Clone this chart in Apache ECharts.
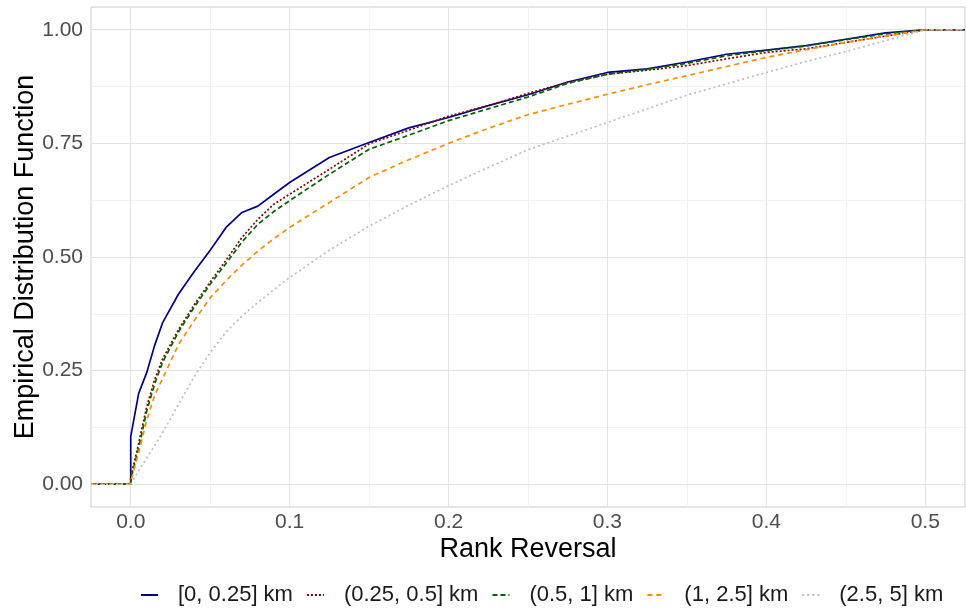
<!DOCTYPE html>
<html>
<head>
<meta charset="utf-8">
<script src="https://cdn.jsdelivr.net/npm/echarts@6/dist/echarts.min.js"></script>
<style>
  html, body { margin: 0; padding: 0; background: #fff; }
  #chart { width: 966px; height: 613px; }
</style>
</head>
<body>
<div id="chart"></div>
<script>
const rankReversal = [-0.025, 0, 0, 0.005, 0.01, 0.015, 0.02, 0.03, 0.04, 0.05, 0.06, 0.07, 0.08, 0.09,
  0.1, 0.125, 0.15, 0.175, 0.2, 0.225, 0.25, 0.275, 0.3, 0.325, 0.35, 0.375, 0.4, 0.425, 0.45, 0.475, 0.5, 0.525];

const ecdf0to025 = [0, 0, 0.105, 0.20, 0.245, 0.305, 0.355, 0.418, 0.468, 0.515, 0.565, 0.598, 0.612, 0.638,
  0.664, 0.719, 0.752, 0.784, 0.807, 0.833, 0.857, 0.885, 0.906, 0.914, 0.929, 0.946, 0.955, 0.965, 0.979, 0.993, 1, 1];
const ecdf025to05 = [0, 0, 0.015, 0.09, 0.17, 0.23, 0.275, 0.34, 0.395, 0.445, 0.493, 0.543, 0.583, 0.616,
  0.638, 0.693, 0.749, 0.779, 0.81, 0.833, 0.86, 0.884, 0.902, 0.911, 0.921, 0.936, 0.95, 0.958, 0.972, 0.986, 1, 1];
const ecdf05to1 = [0, 0, 0.01, 0.08, 0.16, 0.22, 0.268, 0.335, 0.39, 0.44, 0.486, 0.533, 0.572, 0.6,
  0.624, 0.682, 0.737, 0.768, 0.8, 0.826, 0.852, 0.882, 0.902, 0.913, 0.926, 0.943, 0.954, 0.964, 0.978, 0.991, 1, 1];
const ecdf1to25 = [0, 0, 0.005, 0.07, 0.14, 0.195, 0.232, 0.307, 0.36, 0.41, 0.448, 0.482, 0.513, 0.54,
  0.565, 0.62, 0.675, 0.714, 0.75, 0.783, 0.813, 0.836, 0.858, 0.879, 0.899, 0.919, 0.939, 0.956, 0.972, 0.986, 1, 1];
const ecdf25to5 = [0, 0, 0, 0.03, 0.057, 0.085, 0.113, 0.175, 0.237, 0.29, 0.335, 0.37, 0.40, 0.428,
  0.455, 0.515, 0.568, 0.614, 0.657, 0.697, 0.736, 0.766, 0.796, 0.826, 0.856, 0.881, 0.906, 0.93, 0.952, 0.976, 1, 1];

const groupNames = ['[0, 0.25] km', '(0.25, 0.5] km', '(0.5, 1] km', '(1, 2.5] km', '(2.5, 5] km'];
const groupValues = [ecdf0to025, ecdf025to05, ecdf05to1, ecdf1to25, ecdf25to5];

const xMajor = [0, 0.1, 0.2, 0.3, 0.4, 0.5];
const xMinor = [0.05, 0.15, 0.25, 0.35, 0.45];
const yMajor = [0, 0.25, 0.5, 0.75, 1];
const yMinor = [0.125, 0.375, 0.625, 0.875];

const lineLooks = [
  { color: '#00008B', type: 'solid' },
  { color: '#8B0000', type: [2, 2] },
  { color: '#006400', type: [5, 3] },
  { color: '#FF8C00', type: [5, 4] },
  { color: '#BEBEBE', type: [2, 3] },
];

const FONT = 'Liberation Sans, Arial, sans-serif';

const chart = echarts.init(document.getElementById('chart'), null, { renderer: 'canvas' });

const xRange = { min: -0.025, max: 0.525 };
const yRange = { min: -0.05, max: 1.05 };

const option = {
  animation: false,
  backgroundColor: '#fff',
  grid: {
    left: 91, right: 1, top: 7, bottom: 106,
    outerBoundsMode: 'none',
    show: true,
    borderColor: '#CCCCCC',
    borderWidth: 1,
  },
  legend: {
    left: 140,
    top: 584,
    padding: 0,
    itemWidth: 17,
    itemHeight: 12,
    itemGap: 13,
    itemStyle: { opacity: 0 },
    textStyle: { fontFamily: FONT, fontSize: 22, color: '#1A1A1A', padding: [0, 0, 0, 15] },
    data: groupNames,
  },
  xAxis: [
    {
      type: 'value',
      ...xRange,
      name: 'Rank Reversal',
      nameLocation: 'middle',
      nameGap: 29,
      nameMoveOverlap: false,
      nameTextStyle: { fontFamily: FONT, fontSize: 27, color: '#000' },
      axisLine: { show: false },
      axisTick: { show: false, customValues: xMajor },
      axisLabel: {
        customValues: xMajor,
        margin: 5,
        fontFamily: FONT, fontSize: 21, color: '#4D4D4D',
        formatter: v => v.toFixed(1),
      },
      splitLine: { show: true, lineStyle: { color: '#E3E3E3', width: 1 } },
    },
    {
      type: 'value',
      ...xRange,
      position: 'bottom',
      axisLine: { show: false },
      axisTick: { show: false, customValues: xMinor },
      axisLabel: { show: false, customValues: xMinor },
      splitLine: { show: true, lineStyle: { color: '#F2F2F2', width: 1 } },
    },
  ],
  yAxis: [
    {
      type: 'value',
      ...yRange,
      name: 'Empirical Distribution Function',
      nameLocation: 'middle',
      nameGap: 52,
      nameMoveOverlap: false,
      nameTextStyle: { fontFamily: FONT, fontSize: 27, color: '#000' },
      axisLine: { show: false },
      axisTick: { show: false, customValues: yMajor },
      axisLabel: {
        customValues: yMajor,
        margin: 8,
        fontFamily: FONT, fontSize: 21, color: '#4D4D4D',
        formatter: v => v.toFixed(2),
      },
      splitLine: { show: true, lineStyle: { color: '#E3E3E3', width: 1 } },
    },
    {
      type: 'value',
      ...yRange,
      position: 'left',
      axisLine: { show: false },
      axisTick: { show: false, customValues: yMinor },
      axisLabel: { show: false, customValues: yMinor },
      splitLine: { show: true, lineStyle: { color: '#F2F2F2', width: 1 } },
    },
  ],
  series: groupNames.map((name, i) => ({
    name,
    type: 'line',
    xAxisIndex: 0,
    yAxisIndex: 0,
    showSymbol: false,
    symbol: 'none',
    smooth: false,
    color: lineLooks[i].color,
    lineStyle: { color: lineLooks[i].color, type: lineLooks[i].type, width: 1.7 },
    emphasis: { disabled: true },
    data: rankReversal.map((x, j) => [x, groupValues[i][j]]),
  })),
};

chart.setOption(option);
</script>
</body>
</html>
